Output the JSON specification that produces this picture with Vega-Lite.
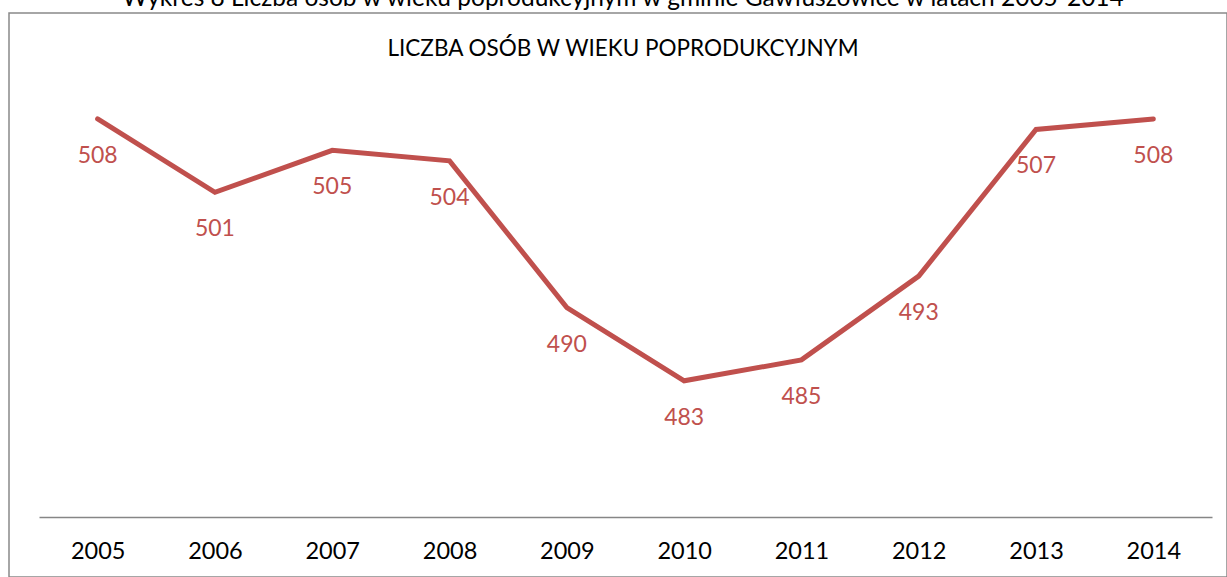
{
  "$schema": "https://vega.github.io/schema/vega-lite/v6.json",
  "width": 1218,
  "height": 564,
  "autosize": {"type": "none"},
  "padding": {"left": 9, "top": 13, "right": 0, "bottom": 0},
  "background": "white",
  "config": {
    "view": {"stroke": "#898989", "strokeWidth": 1.5},
    "font": "Lato"
  },
  "title": {
    "text": "Wykres 8 Liczba osób w wieku poprodukcyjnym w gminie Gawłuszowice w latach 2005-2014",
    "subtitle": "LICZBA OSÓB W WIEKU POPRODUKCYJNYM",
    "anchor": "middle",
    "frame": "group",
    "font": "Lato",
    "fontWeight": "normal",
    "fontSize": 24.5,
    "color": "#000000",
    "subtitleFont": "Lato",
    "subtitleFontSize": 22.5,
    "subtitleColor": "#000000",
    "subtitlePadding": 26,
    "offset": -48,
    "dx": 5
  },
  "data": {
    "values": [
      {"rok": "2005", "liczba": 508},
      {"rok": "2006", "liczba": 501},
      {"rok": "2007", "liczba": 505},
      {"rok": "2008", "liczba": 504},
      {"rok": "2009", "liczba": 490},
      {"rok": "2010", "liczba": 483},
      {"rok": "2011", "liczba": 485},
      {"rok": "2012", "liczba": 493},
      {"rok": "2013", "liczba": 507},
      {"rok": "2014", "liczba": 508}
    ]
  },
  "encoding": {
    "x": {
      "field": "rok",
      "type": "ordinal",
      "sort": null,
      "scale": {"type": "point", "range": [30, 1203], "padding": 0.5},
      "axis": {
        "title": null,
        "orient": "bottom",
        "offset": -60,
        "ticks": false,
        "labelAngle": 0,
        "labelFont": "Lato",
        "labelFontSize": 23.5,
        "labelColor": "#000000",
        "labelPadding": 22,
        "domainColor": "#868686",
        "domainWidth": 1.5,
        "grid": false
      }
    },
    "y": {
      "field": "liczba",
      "type": "quantitative",
      "scale": {"domain": [470, 510], "range": [504, 85], "zero": false, "nice": false},
      "axis": null
    }
  },
  "layer": [
    {
      "mark": {"type": "line", "color": "#C0504D", "strokeWidth": 5, "strokeCap": "round", "strokeJoin": "miter"}
    },
    {
      "mark": {"type": "text", "color": "#C0504D", "font": "Lato", "fontSize": 23, "dy": 37, "baseline": "middle", "align": "center"},
      "encoding": {"text": {"field": "liczba", "type": "quantitative"}}
    }
  ]
}
